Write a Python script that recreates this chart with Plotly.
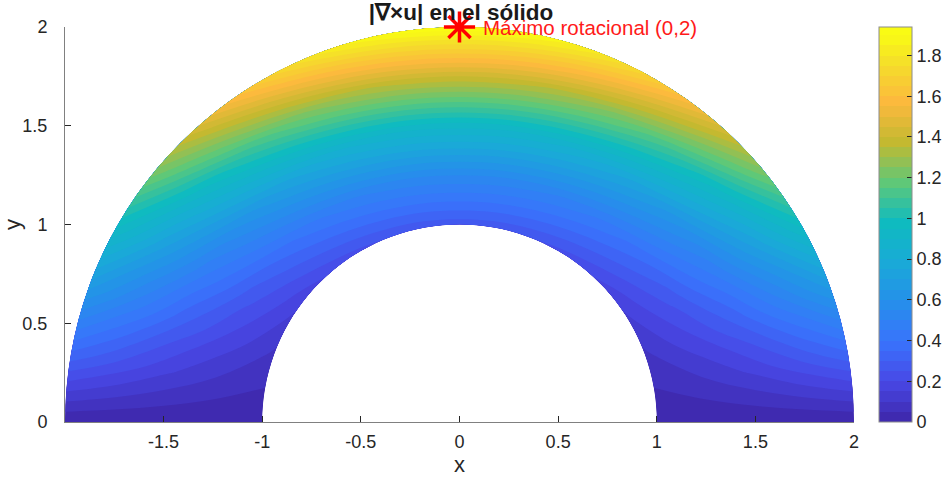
import numpy as np
import plotly.graph_objects as go

# ---- data ----
radius = [1.0, 1.25, 1.5, 1.75, 2.0]
theta_deg = [0, 10, 20, 30, 40, 50, 60, 70, 80, 90,
             100, 110, 120, 130, 140, 150, 160, 170, 180]

# |curl u| along each radius (theta = 0 .. 180 deg)
curl_r100 = [0, 0.05, 0.09, 0.135, 0.17, 0.21, 0.235, 0.255, 0.265, 0.27,
             0.265, 0.255, 0.235, 0.21, 0.17, 0.135, 0.09, 0.05, 0]
curl_r125 = [0, 0.095, 0.19, 0.275, 0.355, 0.42, 0.475, 0.515, 0.54, 0.55,
             0.54, 0.515, 0.475, 0.42, 0.355, 0.275, 0.19, 0.095, 0]
curl_r150 = [0, 0.16, 0.315, 0.46, 0.59, 0.705, 0.795, 0.865, 0.905, 0.92,
             0.905, 0.865, 0.795, 0.705, 0.59, 0.46, 0.315, 0.16, 0]
curl_r175 = [0, 0.245, 0.48, 0.70, 0.90, 1.07, 1.21, 1.315, 1.38, 1.40,
             1.38, 1.315, 1.21, 1.07, 0.90, 0.70, 0.48, 0.245, 0]
curl_r200 = [0, 0.34, 0.665, 0.97, 1.25, 1.485, 1.68, 1.825, 1.91, 1.94,
             1.91, 1.825, 1.68, 1.485, 1.25, 0.97, 0.665, 0.34, 0]

max_point_x = [0]
max_point_y = [2]
max_label = "Máximo rotacional (0,2)"

x_ticks = [-1.5, -1, -0.5, 0, 0.5, 1, 1.5, 2]
x_ticktext = ["-1.5", "-1", "-0.5", "0", "0.5", "1", "1.5", "2"]
y_ticks = [0, 0.5, 1, 1.5, 2]
y_ticktext = ["0", "0.5", "1", "1.5", "2"]
cb_ticks = [0, 0.2, 0.4, 0.6, 0.8, 1, 1.2, 1.4, 1.6, 1.8]
cb_ticktext = ["0", "0.2", "0.4", "0.6", "0.8", "1", "1.2", "1.4", "1.6", "1.8"]

# ---- grid geometry ----
R = np.array(radius)
TH = np.radians(np.array(theta_deg))
Xg = np.outer(np.cos(TH), R)   # shape (n_theta, n_r)
Yg = np.outer(np.sin(TH), R)
Z = np.array([curl_r100, curl_r125, curl_r150, curl_r175, curl_r200]).T

parula = [
    [0.000, "rgb(62,38,168)"],
    [0.103, "rgb(72,72,230)"],
    [0.206, "rgb(57,115,252)"],
    [0.309, "rgb(38,143,235)"],
    [0.412, "rgb(25,170,215)"],
    [0.515, "rgb(15,187,192)"],
    [0.619, "rgb(95,200,120)"],
    [0.722, "rgb(195,185,48)"],
    [0.825, "rgb(252,185,62)"],
    [0.928, "rgb(245,222,42)"],
    [1.000, "rgb(249,251,20)"],
]

FONT = "Liberation Sans, Arial, sans-serif"
TXT = "#262626"
zmax = 1.94
FIG_W, FIG_H = 948, 479

hidden_axis = dict(showgrid=False, showline=False, showticklabels="none",
                   startline=False, endline=False, minorgridcount=0,
                   gridcolor="rgba(0,0,0,0)", smoothing=1)

fig = go.Figure()
fig.add_trace(go.Carpet(
    carpet="c1", a=radius, b=theta_deg, x=Xg, y=Yg,
    aaxis=hidden_axis, baxis=hidden_axis,
))
fig.add_trace(go.Contourcarpet(
    carpet="c1", a=radius, b=theta_deg, z=Z,
    autocontour=False,
    contours=dict(start=0, end=zmax, size=0.05, coloring="fill", showlines=False),
    line=dict(width=0),
    colorscale=parula, zauto=False, zmin=0, zmax=zmax,
    colorbar=dict(
        x=(879 - 65) / 789, xanchor="left", xpad=0,
        y=0, yanchor="bottom", len=1, lenmode="fraction", ypad=0,
        thickness=33, outlinecolor="#8c8c8c", outlinewidth=1,
        ticks="inside", ticklen=5, tickcolor=TXT,
        tickvals=cb_ticks, ticktext=cb_ticktext,
        tickfont=dict(family=FONT, size=18, color=TXT),
    ),
))
fig.add_trace(go.Scatter(
    x=max_point_x, y=max_point_y, mode="markers",
    marker=dict(symbol="asterisk-open", size=26, color="red",
                line=dict(color="red", width=3.5)),
    cliponaxis=False, showlegend=False, hoverinfo="skip",
))
fig.add_annotation(
    x=max_point_x[0] + 0.11, y=max_point_y[0], text=max_label,
    xanchor="left", yanchor="middle", showarrow=False,
    font=dict(family=FONT, size=20.5, color="#ff1a1a"),
)

axis_common = dict(
    showgrid=False, zeroline=False, showline=True, linecolor="#808080",
    linewidth=1, ticks="inside", ticklen=6, tickcolor=TXT, mirror=False,
    automargin=False,
    tickfont=dict(family=FONT, size=18, color=TXT),
)
fig.update_layout(
    width=FIG_W, height=FIG_H,
    margin=dict(l=65, r=94, t=27, b=57, autoexpand=False),
    paper_bgcolor="white", plot_bgcolor="white",
    showlegend=False,
    title=dict(text="<b>|∇×u| en el sólido</b>", x=461 / FIG_W, xanchor="center",
               y=1 - 12 / FIG_H, yanchor="middle", yref="container",
               font=dict(family=FONT, size=22.5, color="#1a1a1a")),
    xaxis=dict(range=[-2, 2], tickvals=x_ticks, ticktext=x_ticktext,
               ticklabelstandoff=3,
               title=dict(text="x", font=dict(family=FONT, size=22, color=TXT), standoff=2),
               **axis_common),
    yaxis=dict(range=[0, 2], tickvals=y_ticks, ticktext=y_ticktext,
               ticklabelstandoff=13,
               title=dict(text="y", font=dict(family=FONT, size=22, color=TXT), standoff=12),
               **axis_common),
)

# remove the page's default body margin so the figure sits at the window's corner
fig.write_html("out.html", config={"displayModeBar": False},
               post_script="document.body.style.margin='0';")
